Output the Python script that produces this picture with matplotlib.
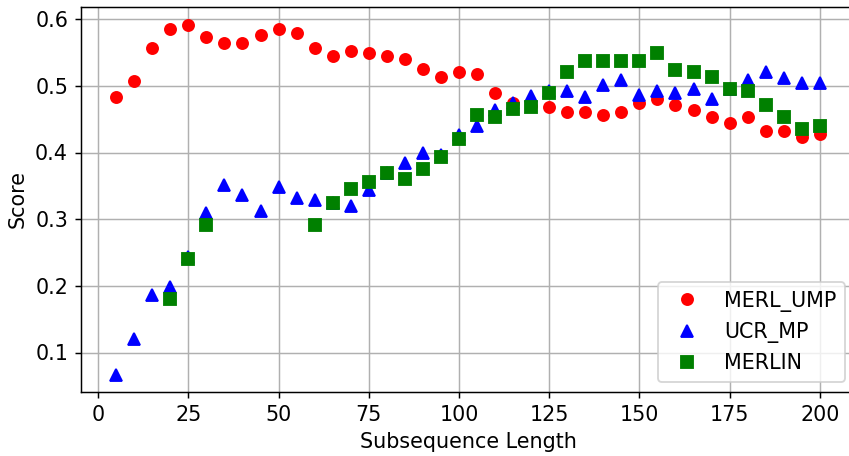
import numpy as np
import matplotlib
matplotlib.use("Agg")
import matplotlib.pyplot as plt

lengths = list(range(5, 205, 5))

merl_ump = [0.484, 0.508, 0.556, 0.585, 0.592, 0.573, 0.565, 0.565, 0.577, 0.585,
            0.580, 0.556, 0.544, 0.552, 0.549, 0.544, 0.540, 0.525, 0.513, 0.520,
            0.517, 0.489, 0.474, 0.470, 0.468, 0.460, 0.460, 0.456, 0.460, 0.475,
            0.480, 0.472, 0.464, 0.453, 0.444, 0.453, 0.432, 0.432, 0.424, 0.428]

ucr_mp = [0.067, 0.120, 0.187, 0.199, 0.244, 0.309, 0.352, 0.336, 0.312, 0.348,
          0.332, 0.328, 0.325, 0.320, 0.344, 0.369, 0.385, 0.400, 0.396, 0.427,
          0.440, 0.464, 0.475, 0.485, 0.493, 0.492, 0.484, 0.501, 0.509, 0.487,
          0.492, 0.489, 0.496, 0.481, 0.495, 0.509, 0.521, 0.512, 0.504, 0.504]

nan = np.nan
merlin = [nan, nan, nan, 0.181, 0.240, 0.292, nan, nan, nan, nan,
          nan, 0.292, 0.325, 0.345, 0.356, 0.369, 0.360, 0.376, 0.393, 0.421,
          0.457, 0.453, 0.465, 0.468, 0.489, 0.521, 0.537, 0.537, 0.537, 0.537,
          0.549, 0.524, 0.520, 0.513, 0.496, 0.492, 0.472, 0.453, 0.436, 0.440]

plt.rcParams["font.size"] = 11.2

dpi = 133
fig = plt.figure(figsize=(849 / dpi, 456 / dpi), dpi=dpi)
ax = fig.add_axes([81 / 849, 64 / 456, 774 / 849, 385 / 456])

ax.plot(lengths, merl_ump, "ro", label="MERL_UMP")
ax.plot(lengths, ucr_mp, "b^", label="UCR_MP")
ax.plot(lengths, merlin, "gs", label="MERLIN")

ax.set_xlabel("Subsequence Length")
ax.set_ylabel("Score")
ax.grid(True)
ax.legend(loc="lower right")

fig.savefig("out.png", dpi=dpi)
